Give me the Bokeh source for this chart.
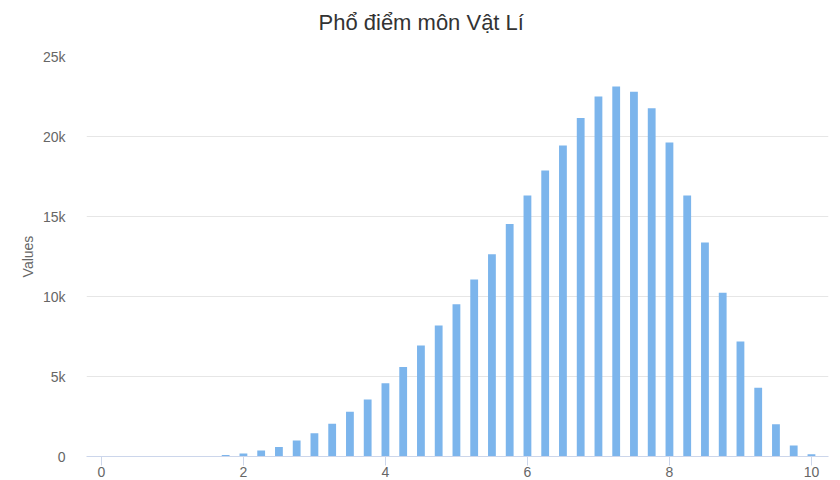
from bokeh.plotting import figure, ColumnDataSource
from bokeh.models import FixedTicker, Title
from bokeh.embed import file_html
from bokeh.resources import INLINE

# score bins (step 0.25) and number of candidates per bin
scores = [0.0, 0.25, 0.5, 0.75, 1.0, 1.25, 1.5, 1.75, 2.0, 2.25,
          2.5, 2.75, 3.0, 3.25, 3.5, 3.75, 4.0, 4.25, 4.5, 4.75,
          5.0, 5.25, 5.5, 5.75, 6.0, 6.25, 6.5, 6.75, 7.0, 7.25,
          7.5, 7.75, 8.0, 8.25, 8.5, 8.75, 9.0, 9.25, 9.5, 9.75, 10.0]
counts = [0, 0, 0, 0, 2, 5, 20, 90, 190, 370,
          600, 1000, 1450, 2040, 2800, 3560, 4580, 5600, 6940, 8190,
          9520, 11060, 12640, 14530, 16320, 17880, 19440, 21150, 22500, 23120,
          22790, 21770, 19620, 16320, 13380, 10230, 7180, 4300, 2020, 690, 140]

x_ticks = [0, 2, 4, 6, 8, 10]
y_ticks = [0, 5000, 10000, 15000, 20000, 25000]
y_tick_labels = ['0', '5k', '10k', '15k', '20k', '25k']

source = ColumnDataSource(data={'score': scores, 'count': counts})

FONT = 'Liberation Sans'

p = figure(width=840, height=480,
           x_range=(-0.21, 10.24), y_range=(0, 25000),
           tools='', toolbar_location=None,
           output_backend='svg',
           min_border_left=86, min_border_right=12,
           min_border_top=56, min_border_bottom=24)

p.outline_line_color = None
p.background_fill_color = 'white'
p.border_fill_color = 'white'

# empty title used as a spacer so the real title sits higher
p.add_layout(Title(text=' ', text_font_size='1px', standoff=14), 'above')
p.add_layout(Title(text='Phổ điểm môn Vật Lí', align='left', offset=232,
                   standoff=10, text_font=FONT, text_font_size='22px',
                   text_font_style='normal', text_color='#333333'), 'above')

p.vbar(x='score', top='count', width=0.11, source=source,
       fill_color='#7cb5ec', line_color=None)

# x axis
p.xaxis.ticker = FixedTicker(ticks=x_ticks)
p.xaxis.axis_line_color = '#ccd6eb'
p.xaxis.major_tick_line_color = '#ccd6eb'
p.xaxis.major_tick_out = 9
p.xaxis.major_tick_in = 0
p.xaxis.minor_tick_line_color = None
p.xaxis.major_label_standoff = 1
p.xaxis.major_label_text_font = FONT
p.xaxis.major_label_text_font_size = '14px'
p.xaxis.major_label_text_color = '#666666'

# y axis
p.yaxis.ticker = FixedTicker(ticks=y_ticks)
p.yaxis.major_label_overrides = dict(zip(y_ticks, y_tick_labels))
p.yaxis.axis_line_color = None
p.yaxis.major_tick_line_color = None
p.yaxis.minor_tick_line_color = None
p.yaxis.major_label_standoff = 15
p.yaxis.major_label_text_font = FONT
p.yaxis.major_label_text_font_size = '14px'
p.yaxis.major_label_text_color = '#666666'
p.yaxis.axis_label = 'Values'
p.yaxis.axis_label_text_font = FONT
p.yaxis.axis_label_text_font_size = '14px'
p.yaxis.axis_label_text_font_style = 'normal'
p.yaxis.axis_label_text_color = '#666666'
p.yaxis.axis_label_standoff = 4

p.xgrid.grid_line_color = None
p.ygrid.grid_line_color = '#e6e6e6'

open('out.html', 'w', encoding='utf-8').write(file_html(p, INLINE))
